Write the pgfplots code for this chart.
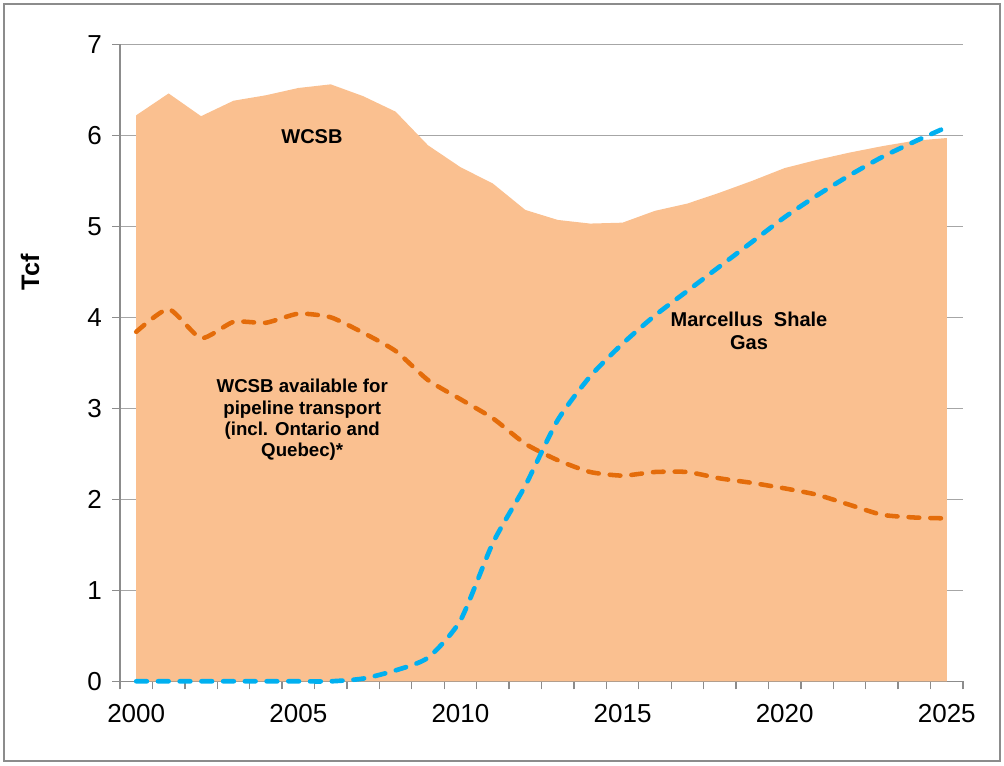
\documentclass[border=0pt]{standalone}
\usepackage{pgfplots}
\pgfplotsset{compat=1.18}
\usepackage{fontspec}
\setmainfont{Liberation Sans}
\definecolor{areaC}{HTML}{FAC090}
\definecolor{orangeC}{HTML}{E46C0A}
\definecolor{blueC}{HTML}{00B0F0}
\definecolor{gridC}{HTML}{A6A6A6}
\definecolor{axisC}{HTML}{8C8C8C}
\pgfplotsset{layers/mylayers/.define layer set={axis background,axis grid,main,axis ticks,axis lines,axis tick labels,axis descriptions,axis foreground}{}}
\begin{document}
\begin{tikzpicture}
\begin{axis}[
  set layers=mylayers,
  scale only axis,
  width=632.25pt, height=477.75pt,
  xmin=1999.5, xmax=2025.5,
  ymin=0, ymax=7,
  axis x line*=bottom, axis y line*=left,
  axis line style={draw=axisC, line width=1pt},
  xtick={1999.5,2000.5,...,2025.5},
  xticklabels={},
  extra x ticks={2000,2005,2010,2015,2020,2025},
  extra x tick labels={2000,2005,2010,2015,2020,2025},
  extra x tick style={major tick length=0pt, grid=none,
     xticklabel style={anchor=center, yshift=-24pt}},
  ytick={0,1,...,7},
  ymajorgrids,
  grid style={draw=gridC, line width=0.9pt},
  tick align=outside,
  major tick length=6pt,
  tick style={draw=axisC, line width=1pt},
  /pgf/number format/assume math mode=true,
  tick label style={font=\fontsize{19.5}{23}\selectfont, text=black},
  yticklabel style={anchor=east, xshift=-4pt},
  ylabel={\textbf{Tcf}},
  every axis y label/.style={at={(rel axis cs:0,0.6426)}, xshift=-67.5pt, anchor=center, rotate=90, font=\fontsize{19}{22}\selectfont},
  clip=false,
]
\addplot[fill=areaC, draw=none] coordinates {
(2000,6.22) (2001,6.46) (2002,6.21) (2003,6.38) (2004,6.44) (2005,6.52) (2006,6.56) (2007,6.43) (2008,6.26) (2009,5.89) (2010,5.65) (2011,5.47) (2012,5.18) (2013,5.07) (2014,5.03) (2015,5.04) (2016,5.17) (2017,5.25) (2018,5.37) (2019,5.50) (2020,5.64) (2021,5.73) (2022,5.81) (2023,5.88) (2024,5.94) (2025,5.97)
} \closedcycle;
\addplot[orangeC, line width=3.4pt, line cap=round, dash pattern=on 8pt off 8.3pt, smooth, tension=0.35] coordinates {
(2000,3.84) (2001,4.09) (2002,3.77) (2003,3.95) (2004,3.94) (2005,4.04) (2006,4.00) (2007,3.83) (2008,3.63) (2009,3.31) (2010,3.10) (2011,2.89) (2012,2.61) (2013,2.43) (2014,2.30) (2015,2.26) (2016,2.30) (2017,2.30) (2018,2.23) (2019,2.18) (2020,2.12) (2021,2.05) (2022,1.94) (2023,1.83) (2024,1.80) (2025,1.79)
};
\addplot[blueC, line width=3.5pt, line cap=round, dash pattern=on 8pt off 8.3pt, smooth, tension=0.4] coordinates {
(2000,0) (2001,0) (2002,0) (2003,0) (2004,0) (2005,0) (2006,0) (2007,0.03) (2008,0.12) (2009,0.26) (2010,0.67) (2011,1.52) (2012,2.15) (2013,2.87) (2014,3.35) (2015,3.71) (2016,4.02) (2017,4.29) (2018,4.56) (2019,4.83) (2020,5.10) (2021,5.34) (2022,5.56) (2023,5.76) (2024,5.93) (2025,6.09)
};
\node[font=\bfseries\fontsize{15}{17}\selectfont] at (axis cs:2005.42,5.99) {WCSB};
\node[font=\bfseries\fontsize{14}{16}\selectfont, align=center] at (axis cs:2005.12,2.87) {WCSB available for\\pipeline transport\\(incl. Ontario and\\Quebec)*};
\node[font=\bfseries\fontsize{15}{17.2}\selectfont, align=center] at (axis cs:2018.9,3.85) {Marcellus~~Shale\\Gas};
\end{axis}
\path[use as bounding box] ([shift={(-90pt,-62.775pt)}]current axis.south west) rectangle ([shift={(663pt,510.975pt)}]current axis.south west);
\draw[axisC, line width=1.2pt] ([shift={(-87pt,-59.775pt)}]current axis.south west) rectangle ([shift={(660pt,507.975pt)}]current axis.south west);
\end{tikzpicture}
\end{document}
